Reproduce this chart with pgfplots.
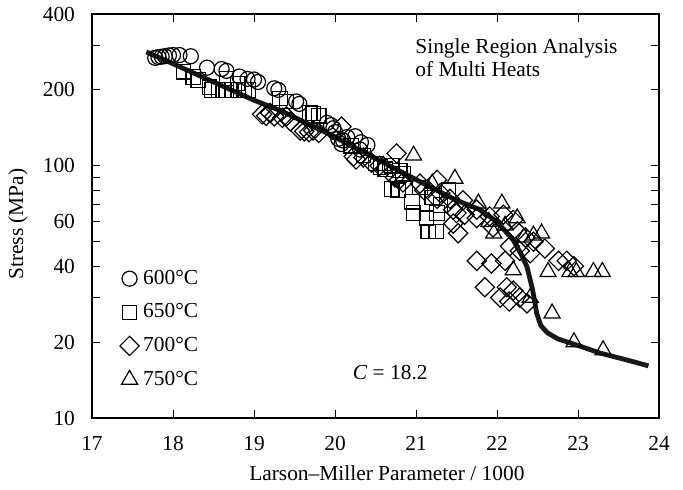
\documentclass[border=0pt]{standalone}
\usepackage{fontspec}
\setmainfont{Liberation Serif}
\usepackage{pgfplots}
\pgfplotsset{compat=1.18}
\begin{document}
\begin{tikzpicture}
\begin{axis}[
  scale only axis,
  width=283.5pt, height=202pt,
  ymode=log,
  xmin=17, xmax=24, ymin=10, ymax=400,
  xtick={17,...,24},
  ytick={10,20,40,60,100,200,400},
  yticklabels={10,20,40,60,100,200,400},
  minor ytick={30,50,70,80,90,300},
  tick align=inside,
  major tick length=4.2pt, minor tick length=4.2pt,
  every tick/.style={black, line width=0.5pt},
  axis line style={line width=0.6pt},
  font=\fontsize{10.7}{12.5}\selectfont,
  /pgf/number format/assume math mode=true,
  xticklabel style={yshift=-5.5pt},
  yticklabel style={xshift=-5pt},
  xlabel={Larson--Miller Parameter / 1000},
  ylabel={Stress (MPa)},
  xlabel style={at={(axis description cs:0.52,0)}, anchor=center, yshift=-27.5pt},
  ylabel style={at={(axis description cs:0,0.48)}, anchor=center, yshift=37pt},
  legend style={draw=none, fill=none, at={(axis description cs:0.038,0.22)},
    anchor=west, row sep=4.2pt, font=\fontsize{10.7}{12.5}\selectfont},
  legend cell align=left,
  legend image code/.code={\draw[#1] plot coordinates {(0pt,0pt)};},
  every axis plot/.append style={line width=0.6pt},
]
\addplot[only marks, mark=o, mark size=3.75pt, black] table {
17.78 268
17.82 270
17.86 271
17.90 272
17.95 274
18.00 275
18.08 275
18.22 272
18.42 245
18.60 242
18.66 238
18.82 226
18.92 221
19.00 220
19.05 215
19.25 203
19.30 200
19.52 180
19.56 176
19.90 148
19.95 145
19.98 141
20.00 136
20.04 128
20.08 122
20.10 126
20.15 130
20.25 131
20.31 116
20.32 124
20.40 121
};
\addlegendentry{600°C}
\addplot[only marks, mark=square, mark size=3.6pt, black] table {
18.13 236
18.25 225
18.31 219
18.45 205
18.48 200
18.56 200
18.62 200
18.66 200
18.72 200
18.81 200
18.88 200
18.93 200
18.66 222
18.80 212
19.32 185
19.40 180
19.69 162
19.73 161
19.80 158
20.20 120
20.35 110
20.50 102
20.56 99
20.62 97
20.70 100
20.80 96
20.84 93
20.70 81
20.78 80
20.95 72
20.97 65
21.05 82
21.13 62
21.15 55
21.20 75
21.25 55
21.26 65
21.30 70
21.40 80
};
\addlegendentry{650°C}
\addplot[only marks, mark=square, mark size=3.4pt, mark options={rotate=45}, black] table {
19.10 160
19.15 158
19.20 162
19.25 157
19.35 155
19.40 157
19.45 150
19.57 138
19.62 137
19.68 136
19.73 138
19.80 135
20.08 143
20.23 109
20.26 106
20.35 108
20.45 103
20.55 100
20.76 112
20.74 90
20.79 88
20.84 86
21.05 85
21.10 80
21.26 88
21.30 78
21.26 74
21.42 74
21.46 67
21.50 65
21.58 73
21.60 64
21.75 67
21.75 62
21.91 63
21.52 54
21.46 59
21.95 57
22.08 64
22.20 61
22.25 55
22.35 52
22.45 50
22.16 48
22.28 46
22.41 45
22.59 47
21.75 42
21.93 41
22.10 42
21.85 33
22.12 33
22.20 32
22.04 30
22.15 29
22.28 30
22.37 28.5
22.76 42
22.86 42
22.95 40
};
\addlegendentry{700°C}
\addplot[only marks, mark=triangle, mark size=4.6pt, black] table {
20.60 100
20.97 110
21.20 85
21.48 89
21.77 71
21.90 60
22.06 71
22.10 58
22.25 62
21.96 54
22.33 52
22.45 53
22.55 54
22.20 38.6
22.63 38
22.90 38
22.98 38
23.19 38
23.30 38
22.41 30
22.68 26
22.95 20
23.31 18.6
};
\addlegendentry{750°C}
\addplot[forget plot, no marks, black!90, line width=2.4pt] table {
17.67 283
18.00 254
18.50 215
19.00 182
19.32 166
19.90 135
20.50 107
21.17 82.6
21.50 73
21.79 67
22.00 60
22.20 50.8
22.30 44.5
22.37 39.8
22.44 32.2
22.49 26.0
22.54 23.3
22.62 21.8
22.75 20.6
23.00 19.4
23.27 18.1
23.60 17.0
23.87 16.1
};
\node[anchor=north west, align=left, inner sep=0pt, font=\fontsize{10.7}{11.5}\selectfont]
  at (rel axis cs:0.5697,0.9400) {Single Region Analysis\\of Multi Heats};
\node[font=\fontsize{10.7}{12.5}\selectfont] at (rel axis cs:0.526,0.113) {\textit{C} = 18.2};
\end{axis}
\pgfresetboundingbox
\path[use as bounding box] ([shift={(-46pt,-35.5pt)}]current axis.south west)
  rectangle ([shift={(12pt,7pt)}]current axis.north east);
\end{tikzpicture}
\end{document}
